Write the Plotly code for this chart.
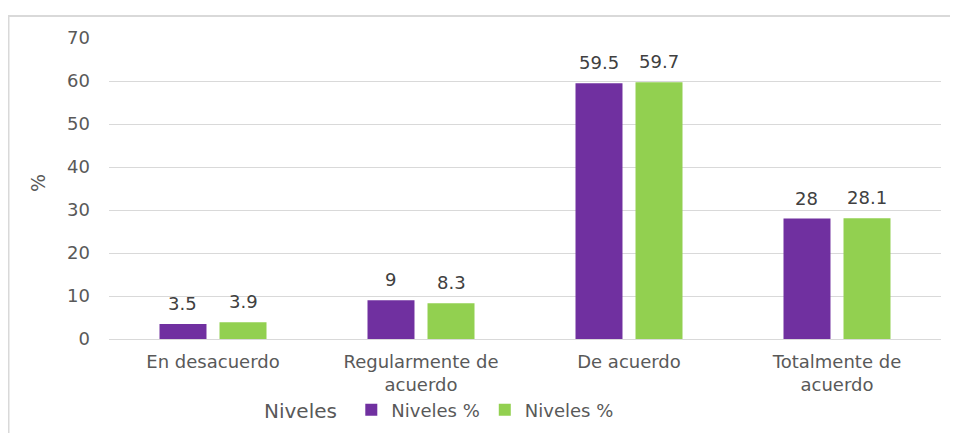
import plotly.graph_objects as go

categories = ["En desacuerdo", "Regularmente de<br>acuerdo", "De acuerdo", "Totalmente de<br>acuerdo"]
series1_name = "Niveles %"
series1_values = [3.5, 9, 59.5, 28]
series2_name = "Niveles %"
series2_values = [3.9, 8.3, 59.7, 28.1]
y_ticks = [0, 10, 20, 30, 40, 50, 60, 70]

FONT = "DejaVu Sans"
TXT = "#595959"
BARGAP, GROUPGAP = 0.423, 0.217

fig = go.Figure()
fig.add_trace(go.Bar(x=categories, y=series1_values, name=series1_name,
                     marker=dict(color="#7030A0", line=dict(width=0))))
fig.add_trace(go.Bar(x=categories, y=series2_values, name=series2_name,
                     marker=dict(color="#92D050", line=dict(width=0))))

# page is rendered with an 8px body margin; figure coords = page coords - 8
OFF = 8
W, H = 958 - OFF, 433 - OFF
L, R, T, B = 109 - OFF, 958 - 941, 38 - OFF, 433 - 339
pw, ph = W - L - R, H - T - B

def px_x(px):
    return (px - OFF - L) / pw

def px_y(py):
    return (H - B - (py - OFF)) / ph

# half of one bar slot in pixels, for placing value labels over each bar of a group
slot_half = pw / len(categories) * (1 - BARGAP) / 4

annotations = []
for vals, sign in ((series1_values, -1), (series2_values, 1)):
    for c, v in zip(categories, vals):
        annotations.append(dict(x=c, y=v, xref="x", yref="y", text=f"{v:g}", showarrow=False,
                                xanchor="center", yanchor="bottom", xshift=sign * slot_half, yshift=8,
                                font=dict(family=FONT, size=18, color="#404040")))
annotations.append(dict(text="%", xref="paper", yref="paper", x=px_x(38), y=px_y(183), textangle=-90,
                        showarrow=False, xanchor="center", yanchor="middle",
                        font=dict(family=FONT, size=19, color=TXT)))

fig.update_layout(
    width=W, height=H,
    margin=dict(l=L, r=R, t=T, b=B, autoexpand=False),
    paper_bgcolor="white", plot_bgcolor="white",
    font=dict(family=FONT, size=18, color=TXT),
    barmode="group", bargap=BARGAP, bargroupgap=GROUPGAP,
    showlegend=True,
    legend=dict(orientation="h", x=px_x(262), xanchor="left", y=px_y(410), yanchor="middle",
                title=dict(text="Niveles ", side="left", font=dict(family=FONT, size=20, color=TXT)),
                font=dict(family=FONT, size=18, color=TXT),
                itemwidth=30, tracegroupgap=0, bgcolor="rgba(0,0,0,0)"),
    xaxis=dict(showgrid=False, showline=True, linecolor="#d9d9d9", linewidth=1, automargin=False,
               ticks="", ticklabelstandoff=6, tickfont=dict(family=FONT, size=18, color=TXT)),
    yaxis=dict(range=[0, 70], tickvals=y_ticks, showgrid=True, gridcolor="#d9d9d9", gridwidth=1,
               zeroline=False, showline=False, ticks="", ticklabelstandoff=18, automargin=False,
               tickfont=dict(family=FONT, size=18, color=TXT)),
    annotations=annotations,
    shapes=[
        dict(type="line", xref="paper", yref="paper", x0=px_x(7.5), x1=px_x(958), y0=px_y(16), y1=px_y(16),
             line=dict(color="#d9d9d9", width=2)),
        dict(type="line", xref="paper", yref="paper", x0=px_x(8.5), x1=px_x(8.5), y0=px_y(15), y1=px_y(433),
             line=dict(color="#d9d9d9", width=2)),
    ],
)

fig.write_html("out.html")
